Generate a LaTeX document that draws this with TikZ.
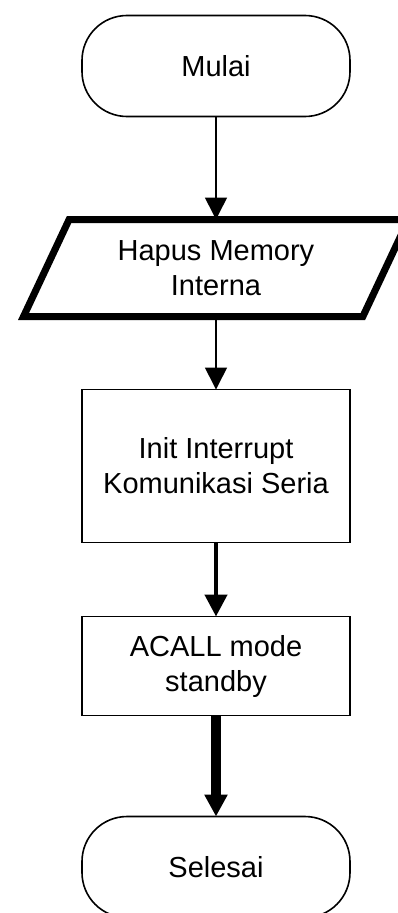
\documentclass[tikz,border=0pt]{standalone}
\usepackage{fontspec}
\setmainfont{Liberation Sans}
\usetikzlibrary{positioning}
\usetikzlibrary{shapes.geometric}
\usetikzlibrary{arrows.meta}

\begin{document}
\begin{tikzpicture}[
font=\fontsize{29}{35}\selectfont,
terminalnode/.style={rectangle, draw=black, rounded corners=45pt, line width=1.6pt, minimum width=268pt, minimum height=101pt, outer sep=0pt, align=center},
ionode/.style={trapezium, trapezium left angle=63, trapezium right angle=117, trapezium stretches=true, draw=black, line width=7pt, minimum width=385pt, minimum height=97pt, outer sep=0pt, align=center},
processnode/.style={rectangle, draw=black, line width=1.6pt, minimum width=268pt, outer sep=0pt, align=center},
flowarrow/.style={-{Triangle[width=22pt,length=22pt]}},
]
\useasboundingbox (-216pt,66pt) rectangle (182pt,-847pt);
\clip (-216pt,66pt) rectangle (182pt,-847pt);

%Nodes
\node[terminalnode]		(mulai)										{Mulai};
\node[ionode]			(hapus)			[below=103pt of mulai]		{Hapus Memory\\Interna};
\node[processnode, minimum height=153pt]	(init)	[below=73pt of hapus]	{Init Interrupt\\Komunikasi Seria};
\node[processnode, minimum height=99pt]		(acall)	[below=74pt of init]	{ACALL mode\\standby};
\node[terminalnode]		(selesai)		[below=101pt of acall]		{Selesai};

%Lines
\draw[flowarrow, line width=1.6pt] (mulai.south) -- (hapus.north);
\draw[flowarrow, line width=1.6pt] (hapus.south) -- (init.north);
\draw[flowarrow, line width=4.5pt] (init.south) -- (acall.north);
\draw[flowarrow, line width=10pt] (acall.south) -- (selesai.north);
\end{tikzpicture}
\end{document}
